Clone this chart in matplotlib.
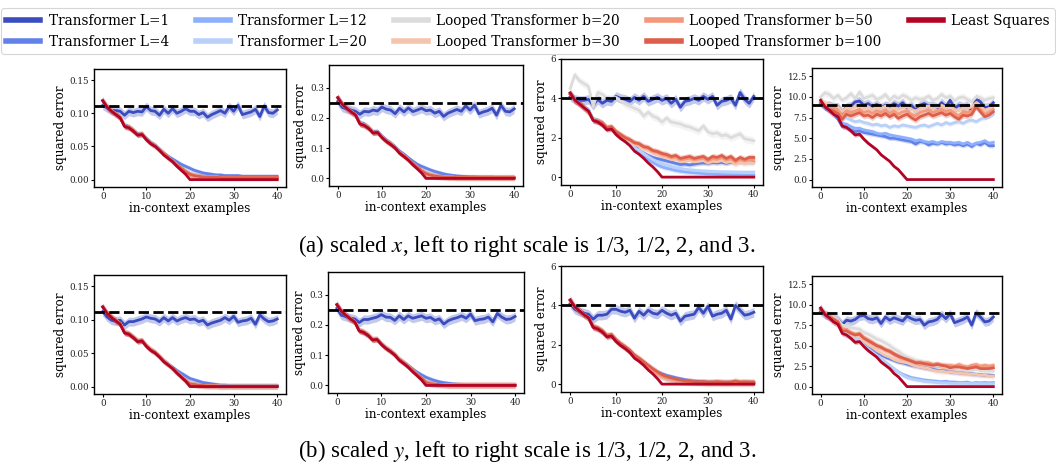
import numpy as np
import matplotlib.pyplot as plt
from matplotlib.lines import Line2D

plt.rcParams['font.family'] = 'DejaVu Serif'
plt.rcParams['mathtext.fontset'] = 'stix'

# ── data ──────────────────────────────────────────────────────────────────────
x = np.arange(41)
labels = ['Transformer L=1', 'Transformer L=4', 'Transformer L=12', 'Transformer L=20',
          'Looped Transformer b=20', 'Looped Transformer b=30',
          'Looped Transformer b=50', 'Looped Transformer b=100', 'Least Squares']
baselines = [1/9, 1/4, 4.0, 9.0]          # error of the zero estimator
ci_frac = [0.06, 0.03, 0.03, 0.03, 0.05, 0.04, 0.04, 0.04, 0.05]

# least squares (same in both rows)
ls_19 = [0.119, 0.109, 0.103, 0.098, 0.093, 0.080, 0.078, 0.073, 0.067, 0.068,
         0.060, 0.054, 0.050, 0.044, 0.037, 0.032, 0.027, 0.020, 0.014, 0.008] + [0.0] * 21
ls_14 = [0.267, 0.245, 0.232, 0.220, 0.210, 0.180, 0.175, 0.165, 0.150, 0.152,
         0.135, 0.122, 0.112, 0.100, 0.083, 0.072, 0.060, 0.045, 0.032, 0.018] + [0.0] * 21
ls_4 = [4.28, 3.92, 3.72, 3.52, 3.36, 2.88, 2.80, 2.64, 2.40, 2.44,
        2.16, 1.96, 1.80, 1.60, 1.32, 1.16, 0.96, 0.72, 0.52, 0.28] + [0.0] * 21
ls_9 = [9.6, 8.8, 8.4, 7.9, 7.6, 6.5, 6.3, 5.9, 5.4, 5.5,
        4.9, 4.4, 4.0, 3.6, 3.0, 2.6, 2.2, 1.6, 1.2, 0.6] + [0.0] * 21

# row (a): scaled x
a1_l1 = [0.112, 0.108, 0.104, 0.104, 0.103, 0.097, 0.103, 0.101, 0.103, 0.102,
         0.110, 0.104, 0.103, 0.097, 0.106, 0.100, 0.107, 0.100, 0.103, 0.107,
         0.103, 0.103, 0.098, 0.101, 0.094, 0.098, 0.101, 0.104, 0.100, 0.110,
         0.103, 0.112, 0.098, 0.100, 0.102, 0.106, 0.095, 0.111, 0.101, 0.100, 0.105]
a1_l4 = [0.119, 0.110, 0.104, 0.099, 0.094, 0.082, 0.080, 0.075, 0.069, 0.069,
         0.062, 0.056, 0.052, 0.046, 0.040, 0.035, 0.031, 0.027, 0.023, 0.020,
         0.017, 0.014, 0.012, 0.010, 0.009, 0.008, 0.007, 0.007, 0.006, 0.006,
         0.006, 0.006, 0.005, 0.005, 0.005, 0.005, 0.005, 0.005, 0.005, 0.005, 0.005]
a1_rest = [0.119, 0.110, 0.104, 0.099, 0.094, 0.081, 0.079, 0.074, 0.068, 0.069,
           0.061, 0.055, 0.051, 0.045, 0.039, 0.033, 0.028, 0.022, 0.017, 0.012,
           0.008, 0.006, 0.005, 0.004, 0.004, 0.004, 0.004, 0.003, 0.003, 0.003,
           0.003, 0.003, 0.003, 0.003, 0.003, 0.003, 0.003, 0.003, 0.003, 0.003, 0.003]

a2_l1 = [0.255, 0.235, 0.230, 0.226, 0.222, 0.212, 0.222, 0.220, 0.226, 0.223,
         0.236, 0.229, 0.226, 0.214, 0.232, 0.220, 0.233, 0.221, 0.226, 0.232,
         0.224, 0.226, 0.216, 0.222, 0.205, 0.216, 0.222, 0.228, 0.222, 0.240,
         0.226, 0.242, 0.214, 0.220, 0.224, 0.232, 0.209, 0.242, 0.222, 0.220, 0.230]
a2_l4 = [0.267, 0.247, 0.234, 0.222, 0.212, 0.185, 0.180, 0.169, 0.155, 0.155,
         0.140, 0.127, 0.117, 0.104, 0.090, 0.080, 0.068, 0.057, 0.047, 0.040,
         0.034, 0.028, 0.023, 0.019, 0.015, 0.012, 0.010, 0.008, 0.007, 0.006,
         0.005, 0.005, 0.004, 0.004, 0.004, 0.004, 0.003, 0.003, 0.003, 0.003, 0.003]
a2_rest = [0.267, 0.246, 0.233, 0.221, 0.211, 0.182, 0.177, 0.167, 0.152, 0.153,
           0.137, 0.124, 0.114, 0.102, 0.086, 0.075, 0.063, 0.050, 0.037, 0.025,
           0.016, 0.011, 0.008, 0.006, 0.005, 0.004, 0.004, 0.003, 0.003, 0.003,
           0.003, 0.003, 0.003, 0.003, 0.003, 0.003, 0.003, 0.003, 0.003, 0.003, 0.003]

a3_l1 = [4.10, 3.95, 3.90, 3.90, 3.95, 3.65, 3.95, 3.75, 3.90, 3.85,
         4.10, 4.00, 3.95, 3.85, 4.05, 3.90, 4.10, 3.85, 3.95, 4.05,
         3.90, 4.00, 3.75, 3.95, 3.55, 3.85, 3.90, 4.00, 3.90, 4.10,
         3.95, 4.10, 3.65, 3.85, 3.90, 4.00, 3.65, 4.30, 3.95, 3.75, 4.10]
a3_l4 = [4.25, 3.92, 3.74, 3.55, 3.40, 2.95, 2.88, 2.74, 2.52, 2.55,
         2.30, 2.12, 1.95, 1.80, 1.62, 1.35, 1.22, 1.10, 1.00, 0.94,
         0.88, 0.82, 0.76, 0.70, 0.64, 0.66, 0.62, 0.66, 0.70, 0.72,
         0.70, 0.74, 0.72, 0.75, 0.70, 0.76, 0.74, 0.78, 0.74, 0.76, 0.75]
a3_l12 = [4.25, 3.92, 3.73, 3.54, 3.38, 2.92, 2.84, 2.68, 2.46, 2.48,
          2.22, 2.02, 1.85, 1.66, 1.42, 1.25, 1.08, 0.90, 0.75, 0.62,
          0.52, 0.45, 0.40, 0.34, 0.30, 0.27, 0.24, 0.22, 0.20, 0.18,
          0.16, 0.15, 0.14, 0.13, 0.12, 0.12, 0.11, 0.11, 0.10, 0.10, 0.10]
a3_l20 = [4.25, 3.93, 3.74, 3.56, 3.40, 2.95, 2.88, 2.72, 2.50, 2.52,
          2.28, 2.08, 1.92, 1.74, 1.52, 1.36, 1.20, 1.04, 0.90, 0.78,
          0.68, 0.60, 0.54, 0.48, 0.44, 0.40, 0.37, 0.35, 0.33, 0.31,
          0.30, 0.29, 0.28, 0.27, 0.27, 0.26, 0.26, 0.25, 0.25, 0.25, 0.25]
a3_b20 = [4.50, 5.20, 4.90, 4.75, 4.60, 3.60, 4.30, 4.20, 4.00, 4.00,
          4.05, 3.90, 3.70, 3.60, 3.50, 3.40, 3.10, 3.30, 3.10, 3.00,
          2.80, 3.00, 2.80, 2.75, 2.70, 2.60, 2.55, 2.45, 2.35, 2.60,
          2.30, 2.20, 2.25, 2.10, 2.15, 2.00, 2.10, 2.20, 1.95, 1.90, 1.85]
a3_b30 = [4.25, 3.90, 3.72, 3.52, 3.30, 2.90, 2.84, 2.72, 2.48, 2.52,
          2.26, 2.10, 1.94, 1.82, 1.66, 1.58, 1.44, 1.36, 1.22, 1.16,
          1.05, 0.98, 0.90, 0.92, 0.80, 0.82, 0.86, 0.78, 0.80, 0.84,
          0.72, 0.80, 0.78, 0.84, 0.74, 0.80, 0.66, 0.76, 0.70, 0.74, 0.72]
a3_b50 = [4.22, 3.90, 3.75, 3.55, 3.32, 2.92, 2.86, 2.76, 2.52, 2.56,
          2.30, 2.16, 2.00, 1.88, 1.72, 1.66, 1.52, 1.45, 1.30, 1.25,
          1.14, 1.08, 0.98, 1.02, 0.88, 0.92, 0.96, 0.88, 0.92, 0.96,
          0.82, 0.94, 0.90, 1.00, 0.86, 0.94, 0.76, 0.90, 0.82, 0.90, 0.88]
a3_b100 = [4.20, 3.90, 3.75, 3.55, 3.30, 2.90, 2.85, 2.75, 2.50, 2.55,
           2.30, 2.15, 2.00, 1.90, 1.75, 1.70, 1.55, 1.50, 1.35, 1.30,
           1.20, 1.15, 1.05, 1.10, 0.95, 1.00, 1.05, 0.95, 1.00, 1.05,
           0.90, 1.05, 1.00, 1.10, 0.95, 1.05, 0.85, 1.00, 0.90, 1.00, 1.00]

a4_l1 = [9.3, 8.9, 9.0, 8.8, 8.8, 8.1, 8.8, 8.9, 9.4, 9.5,
         9.0, 9.2, 8.8, 9.1, 8.7, 9.0, 8.8, 9.2, 8.9, 9.3,
         8.7, 9.0, 8.4, 9.0, 9.2, 8.9, 9.0, 8.7, 9.3, 8.8,
         9.6, 8.6, 9.0, 8.8, 9.0, 8.3, 9.8, 9.4, 8.7, 8.8, 9.3]
a4_l4 = [9.3, 8.7, 8.3, 8.0, 7.3, 6.4, 6.4, 6.0, 5.8, 5.9,
         5.7, 5.6, 5.5, 5.4, 5.3, 5.2, 5.0, 5.0, 4.9, 4.8,
         4.7, 4.6, 4.3, 4.6, 4.5, 4.2, 4.4, 4.3, 4.5, 4.3,
         4.4, 4.2, 4.3, 4.1, 4.3, 4.0, 4.4, 4.2, 4.5, 4.1, 4.1]
a4_l12 = [9.4, 8.8, 8.4, 8.1, 7.6, 6.8, 6.7, 6.4, 6.2, 6.2,
          6.0, 5.9, 5.8, 5.6, 5.5, 5.6, 5.4, 5.3, 5.2, 5.1,
          5.0, 4.9, 4.7, 4.8, 4.6, 4.5, 4.6, 4.4, 4.6, 4.5,
          4.5, 4.4, 4.5, 4.3, 4.5, 4.2, 4.4, 4.5, 4.7, 4.4, 4.5]
a4_l20 = [9.2, 8.8, 8.6, 8.3, 7.9, 7.4, 7.5, 7.2, 7.0, 7.1,
          6.9, 6.8, 6.6, 6.7, 6.5, 6.6, 6.3, 6.5, 6.4, 6.6,
          6.5, 6.4, 6.3, 6.5, 6.6, 6.4, 6.6, 6.8, 6.6, 6.9,
          6.7, 6.9, 7.0, 6.8, 7.1, 7.2, 7.0, 7.3, 7.5, 7.6, 7.9]
a4_b20 = [10.0, 10.5, 10.3, 9.8, 10.2, 9.6, 9.9, 10.4, 9.8, 10.6,
          9.8, 10.0, 10.2, 9.7, 9.9, 10.3, 9.6, 10.1, 9.8, 10.2,
          10.0, 9.6, 9.9, 9.7, 9.8, 10.1, 9.6, 9.8, 10.3, 9.9,
          10.1, 9.5, 9.9, 10.0, 9.7, 9.4, 10.0, 9.9, 9.6, 9.8, 9.9]
a4_b30 = [9.6, 9.3, 9.1, 8.9, 8.8, 8.2, 8.7, 8.6, 8.8, 8.9,
          8.6, 8.8, 8.5, 8.8, 8.6, 8.9, 8.5, 8.8, 8.4, 8.7,
          8.8, 8.5, 8.3, 8.6, 8.8, 8.9, 8.6, 8.8, 9.0, 8.7,
          8.9, 8.5, 8.3, 8.7, 8.6, 8.8, 9.3, 8.9, 8.4, 8.6, 8.9]
a4_b50 = [9.4, 9.0, 8.8, 8.6, 8.4, 7.7, 8.3, 8.1, 8.3, 8.5,
          8.1, 8.3, 8.0, 8.3, 8.1, 8.4, 8.0, 8.3, 7.9, 8.2,
          8.3, 7.9, 7.7, 8.1, 8.3, 8.4, 8.1, 8.3, 8.5, 8.2,
          8.4, 8.0, 7.7, 8.2, 8.1, 8.3, 9.0, 8.5, 7.9, 8.1, 8.5]
a4_b100 = [9.2, 8.8, 8.5, 8.3, 8.0, 7.3, 7.9, 7.7, 7.9, 8.1,
           7.7, 7.8, 7.5, 7.9, 7.7, 8.0, 7.6, 7.9, 7.4, 7.7,
           7.9, 7.5, 7.2, 7.6, 7.8, 8.0, 7.7, 7.9, 8.1, 7.8,
           8.0, 7.6, 7.3, 7.8, 7.7, 7.9, 8.8, 8.2, 7.6, 7.8, 8.2]

# row (b): scaled y
b1_l1 = [0.112, 0.104, 0.099, 0.098, 0.099, 0.092, 0.097, 0.097, 0.099, 0.101,
         0.104, 0.102, 0.101, 0.097, 0.103, 0.098, 0.103, 0.098, 0.101, 0.103,
         0.100, 0.101, 0.097, 0.099, 0.092, 0.095, 0.097, 0.099, 0.103, 0.099,
         0.105, 0.096, 0.098, 0.099, 0.102, 0.093, 0.107, 0.101, 0.097, 0.098, 0.101]
b1_l4 = [0.119, 0.110, 0.104, 0.099, 0.094, 0.081, 0.079, 0.074, 0.068, 0.069,
         0.061, 0.055, 0.051, 0.045, 0.039, 0.033, 0.029, 0.024, 0.020, 0.016,
         0.012, 0.010, 0.008, 0.006, 0.005, 0.004, 0.003, 0.002, 0.002, 0.001,
         0.001, 0.001, 0.001, 0.001, 0.001, 0.001, 0.001, 0.001, 0.001, 0.001, 0.001]
b1_rest = [0.119, 0.110, 0.104, 0.099, 0.094, 0.081, 0.079, 0.074, 0.068, 0.069,
           0.061, 0.055, 0.051, 0.045, 0.038, 0.033, 0.027, 0.021, 0.015, 0.009,
           0.004, 0.003, 0.002, 0.0015, 0.001, 0.001, 0.001, 0.0005, 0.0005, 0.0005,
           0.0005, 0.0005, 0.0005, 0.0005, 0.0005, 0.0005, 0.0005, 0.0005, 0.0005, 0.0005, 0.0005]

b2_l1 = [0.255, 0.232, 0.228, 0.222, 0.220, 0.208, 0.218, 0.218, 0.222, 0.226,
         0.234, 0.226, 0.225, 0.215, 0.230, 0.218, 0.230, 0.222, 0.226, 0.230,
         0.222, 0.225, 0.215, 0.220, 0.203, 0.214, 0.220, 0.224, 0.230, 0.222,
         0.236, 0.214, 0.218, 0.220, 0.226, 0.210, 0.238, 0.226, 0.218, 0.220, 0.228]
b2_l4 = [0.267, 0.246, 0.233, 0.221, 0.211, 0.182, 0.177, 0.167, 0.152, 0.153,
         0.137, 0.124, 0.114, 0.102, 0.087, 0.076, 0.066, 0.054, 0.044, 0.035,
         0.027, 0.021, 0.016, 0.012, 0.009, 0.007, 0.005, 0.004, 0.003, 0.002,
         0.002, 0.002, 0.001, 0.001, 0.001, 0.001, 0.001, 0.001, 0.001, 0.001, 0.001]
b2_rest = [0.267, 0.246, 0.233, 0.221, 0.211, 0.182, 0.177, 0.167, 0.152, 0.153,
           0.137, 0.124, 0.114, 0.102, 0.086, 0.075, 0.063, 0.050, 0.037, 0.025,
           0.010, 0.006, 0.004, 0.003, 0.002, 0.001, 0.001, 0.001, 0.001, 0.001,
           0.001, 0.001, 0.001, 0.001, 0.001, 0.001, 0.001, 0.001, 0.001, 0.001, 0.001]

b3_l1 = [4.10, 3.80, 3.70, 3.60, 3.55, 3.30, 3.50, 3.50, 3.55, 3.80,
         3.80, 3.70, 3.65, 3.75, 3.35, 3.70, 3.50, 3.75, 3.60, 3.55,
         3.75, 3.60, 3.50, 3.60, 3.20, 3.45, 3.50, 3.55, 3.90, 3.60,
         3.95, 3.45, 3.55, 3.60, 3.75, 3.30, 4.00, 3.75, 3.50, 3.55, 3.65]
b3_l4 = [4.25, 3.92, 3.73, 3.53, 3.38, 2.92, 2.84, 2.68, 2.45, 2.48,
         2.22, 2.02, 1.86, 1.68, 1.44, 1.28, 1.10, 0.92, 0.76, 0.62,
         0.52, 0.44, 0.38, 0.32, 0.27, 0.22, 0.18, 0.15, 0.13, 0.11,
         0.10, 0.09, 0.09, 0.08, 0.08, 0.08, 0.07, 0.07, 0.07, 0.07, 0.07]
b3_rest = [4.25, 3.92, 3.73, 3.53, 3.37, 2.90, 2.82, 2.66, 2.43, 2.46,
           2.20, 2.00, 1.84, 1.65, 1.40, 1.24, 1.05, 0.86, 0.68, 0.52,
           0.38, 0.30, 0.24, 0.19, 0.15, 0.12, 0.10, 0.09, 0.08, 0.07,
           0.06, 0.06, 0.06, 0.05, 0.05, 0.05, 0.05, 0.05, 0.05, 0.05, 0.05]
b3_b100 = [4.25, 3.92, 3.74, 3.55, 3.40, 2.94, 2.86, 2.72, 2.48, 2.52,
           2.26, 2.06, 1.90, 1.72, 1.48, 1.32, 1.14, 0.96, 0.78, 0.62,
           0.48, 0.38, 0.32, 0.26, 0.21, 0.17, 0.15, 0.13, 0.12, 0.13,
           0.10, 0.11, 0.13, 0.11, 0.10, 0.11, 0.16, 0.11, 0.12, 0.11, 0.11]

b4_l1 = [9.2, 8.8, 8.6, 8.3, 8.2, 7.6, 8.1, 8.0, 8.2, 8.6,
         8.7, 8.3, 8.2, 8.4, 7.7, 8.5, 8.1, 8.4, 8.2, 8.0,
         8.6, 8.3, 8.1, 8.2, 7.5, 7.9, 8.0, 8.2, 8.8, 8.3,
         8.9, 7.8, 8.0, 8.2, 8.5, 7.5, 9.0, 8.5, 7.9, 8.0, 8.5]
b4_l4 = [9.5, 8.9, 8.6, 8.2, 7.9, 6.9, 6.8, 6.4, 6.0, 6.0,
         5.3, 5.0, 4.6, 4.2, 3.9, 3.6, 3.4, 3.2, 3.0, 2.9,
         2.75, 2.6, 2.5, 2.4, 2.3, 2.2, 2.1, 2.0, 1.95, 1.9,
         1.8, 1.75, 1.7, 1.65, 1.6, 1.55, 1.5, 1.45, 1.4, 1.4, 1.35]
b4_l12 = [9.5, 8.9, 8.5, 8.1, 7.8, 6.8, 6.6, 6.2, 5.8, 5.8,
          5.0, 4.6, 4.2, 3.8, 3.4, 2.9, 2.5, 2.1, 1.8, 1.5,
          1.3, 1.1, 1.0, 0.9, 0.8, 0.75, 0.7, 0.65, 0.6, 0.65,
          0.55, 0.55, 0.5, 0.5, 0.55, 0.4, 0.5, 0.45, 0.5, 0.45, 0.5]
b4_l20 = [9.5, 8.9, 8.5, 8.1, 7.8, 6.8, 6.6, 6.2, 5.8, 5.8,
          5.0, 4.6, 4.2, 3.8, 3.4, 3.0, 2.6, 2.2, 1.8, 1.4,
          1.1, 0.95, 0.85, 0.75, 0.65, 0.6, 0.55, 0.5, 0.45, 0.45,
          0.4, 0.4, 0.4, 0.38, 0.4, 0.35, 0.38, 0.35, 0.36, 0.35, 0.35]
b4_b20 = [9.5, 9.0, 8.7, 8.4, 8.2, 7.5, 7.4, 7.2, 7.1, 7.0,
          6.6, 6.4, 6.1, 5.8, 5.6, 5.3, 5.0, 4.6, 4.3, 3.9,
          3.6, 3.4, 3.2, 3.0, 2.9, 2.7, 2.6, 2.6, 2.5, 2.4,
          2.3, 2.3, 2.2, 2.1, 2.0, 2.0, 2.1, 2.0, 1.9, 1.9, 1.9]
b4_b30 = [9.4, 8.9, 8.6, 8.2, 7.9, 6.9, 6.8, 6.4, 6.1, 6.1,
          5.5, 5.1, 4.8, 4.4, 4.1, 3.8, 3.6, 3.3, 3.1, 3.0,
          2.9, 2.7, 2.5, 2.4, 2.3, 2.2, 2.0, 1.9, 1.9, 1.8,
          1.8, 1.7, 1.7, 1.6, 1.6, 1.5, 1.5, 1.4, 1.4, 1.3, 1.3]
b4_b50 = [9.4, 9.0, 8.7, 8.3, 8.0, 7.0, 7.0, 6.6, 6.4, 6.5,
          6.0, 5.7, 5.4, 5.0, 4.8, 4.5, 4.3, 3.9, 3.7, 3.5,
          3.4, 3.2, 3.0, 3.0, 2.9, 2.9, 2.7, 2.8, 2.6, 2.6,
          2.6, 2.5, 2.7, 2.5, 2.4, 2.6, 2.7, 2.5, 2.6, 2.5, 2.6]
b4_b100 = [9.4, 8.9, 8.5, 8.2, 7.9, 6.8, 6.8, 6.5, 6.3, 6.4,
           5.9, 5.6, 5.3, 5.0, 4.8, 4.5, 4.3, 4.0, 3.7, 3.5,
           3.3, 3.1, 2.9, 2.9, 2.8, 2.7, 2.6, 2.7, 2.6, 2.5,
           2.3, 2.4, 2.4, 2.3, 2.2, 2.3, 2.4, 2.2, 2.2, 2.2, 2.3]

# series per panel, in legend order
row_a = [
    [a1_l1, a1_l4, a1_rest, a1_rest, a1_rest, a1_rest, a1_rest, a1_rest, ls_19],
    [a2_l1, a2_l4, a2_rest, a2_rest, a2_rest, a2_rest, a2_rest, a2_rest, ls_14],
    [a3_l1, a3_l4, a3_l12, a3_l20, a3_b20, a3_b30, a3_b50, a3_b100, ls_4],
    [a4_l1, a4_l4, a4_l12, a4_l20, a4_b20, a4_b30, a4_b50, a4_b100, ls_9],
]
row_b = [
    [b1_l1, b1_l4, b1_rest, b1_rest, b1_rest, b1_rest, b1_rest, b1_rest, ls_19],
    [b2_l1, b2_l4, b2_rest, b2_rest, b2_rest, b2_rest, b2_rest, b2_rest, ls_14],
    [b3_l1, b3_l4, b3_rest, b3_rest, b3_rest, b3_rest, b3_rest, b3_b100, ls_4],
    [b4_l1, b4_l4, b4_l12, b4_l20, b4_b20, b4_b30, b4_b50, b4_b100, ls_9],
]

# ── layout ────────────────────────────────────────────────────────────────────
W, H = 1056, 465
colors = plt.get_cmap('coolwarm')(np.linspace(0, 1, 9))
boxes_a = [(94, 69, 286, 187), (329, 65, 523, 186), (561, 59, 763, 185), (812, 68, 1002, 187)]
boxes_b = [(94, 275, 286, 394), (328, 272, 524, 393), (561, 266, 763, 392), (812, 276, 1002, 394)]
yticks = [[0, 0.05, 0.10, 0.15], [0, 0.1, 0.2, 0.3], [0, 2, 4, 6], [0, 2.5, 5, 7.5, 10, 12.5]]
yfmt = ['{:.2f}', '{:.1f}', '{:.0f}', '{:.1f}']

fig = plt.figure(figsize=(W / 100, H / 100), dpi=100)
fig.patch.set_facecolor('white')


def panel(box, series, j):
    l, t, r, b = box
    ax = fig.add_axes([l / W, 1 - b / H, (r - l) / W, (b - t) / H])
    base = baselines[j]
    for k, ys in enumerate(series):
        ys = np.asarray(ys)
        ci = ci_frac[k] * (ys if k == 8 else base)
        ax.fill_between(x, ys - ci, ys + ci, color=colors[k], alpha=0.3, lw=0)
        ax.plot(x, ys, color=colors[k], lw=2)
    ax.axhline(base, color='black', ls='--', lw=2, zorder=5)
    ax.set_ylim(-0.1 * base, 1.5 * base)
    ax.set_xticks([0, 10, 20, 30, 40])
    ax.set_yticks(yticks[j])
    ax.set_yticklabels([yfmt[j].format(v) for v in yticks[j]])
    ax.tick_params(labelsize=6.3, labelcolor='#222', length=2, width=0.8, pad=1.5)
    for s in ax.spines.values():
        s.set_linewidth(1.0)
        s.set_color('black')
    ax.set_ylabel('squared error', fontsize=8.6, labelpad=2)
    ax.set_xlabel('in-context examples', fontsize=8.6, labelpad=1)
    return ax


for j in range(4):
    panel(boxes_a[j], row_a[j], j)
    panel(boxes_b[j], row_b[j], j)

# captions
cap = dict(fontsize=16.5, family='Liberation Serif', ha='center', va='center')
fig.text(527 / W, 1 - 246 / H, r'(a) scaled $x$, left to right scale is 1/3, 1/2, 2, and 3.', **cap)
fig.text(527 / W, 1 - 451 / H, r'(b) scaled $y$, left to right scale is 1/3, 1/2, 2, and 3.', **cap)

# legend
handles = [Line2D([], [], color=colors[k], lw=4) for k in range(9)]
leg = fig.legend(handles, labels, loc='upper center', bbox_to_anchor=(0.5, 1 - 1.5 / H),
                 ncol=5, fontsize=9.8, handlelength=2.5, handletextpad=0.6,
                 columnspacing=2.0, frameon=True, borderpad=0.4)
leg.get_frame().set_edgecolor('#cccccc')
leg.get_frame().set_linewidth(0.8)

fig.savefig('out.png', dpi=100, facecolor='white')
